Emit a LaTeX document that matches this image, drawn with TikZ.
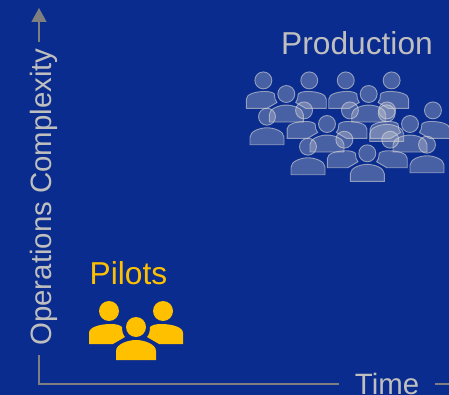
\documentclass[tikz,border=0pt]{standalone}
\usepackage{fontspec}
\setmainfont{Liberation Sans}
\usetikzlibrary{arrows.meta}
\definecolor{bgblue}{HTML}{0A2C8E}
\definecolor{axisgrey}{HTML}{7F7F7F}
\definecolor{labelgrey}{HTML}{BFBFBF}
\definecolor{gold}{HTML}{FFC000}
\definecolor{crowdgrey}{HTML}{D9D9D9}
\tikzset{
  axis line/.style={draw=axisgrey,line width=1.6pt},
  axis label/.style={text=labelgrey,font=\fontsize{29.4}{32}\selectfont,inner sep=0pt},
  title label/.style={font=\fontsize{31.7}{34}\selectfont,inner sep=0pt},
  crowd/.style={fill=crowdgrey,fill opacity=.3,draw=crowdgrey,draw opacity=.6,line width=.9pt},
  pilot/.style={fill=gold,draw=none}
}
\newcommand{\centerperson}[4]{%
  \begin{scope}[shift={(#1,#2)},scale=#3]
    \path[#4] (0,0) circle[radius=10];
    \path[#4] (-20,33) -- (-20,24) .. controls (-20,17) and (-8,13) .. (0,13)
      .. controls (8,13) and (20,17) .. (20,24) -- (20,33) -- cycle;
  \end{scope}}
\newcommand{\sidepeople}[4]{%
  \begin{scope}[shift={(#1,#2)},scale=#3]
    \path[#4] (-27,-16) circle[radius=10];
    \path[#4] (27,-16) circle[radius=10];
    \path[#4] (-47,17) -- (-47,6) .. controls (-47,0) and (-36,-3) .. (-25,-3)
      .. controls (-20,-3) and (-16,-2) .. (-14,0) .. controls (-14,4) and (-13,8) .. (-11,10)
      -- (-23,17) -- cycle;
    \path[#4] (47,17) -- (47,6) .. controls (47,0) and (36,-3) .. (25,-3)
      .. controls (20,-3) and (16,-2) .. (14,0) .. controls (14,4) and (13,8) .. (11,10)
      -- (23,17) -- cycle;
  \end{scope}}
\newcommand{\persongroup}[4]{\sidepeople{#1}{#2}{#3}{#4}\centerperson{#1}{#2}{#3}{#4}}
\begin{document}
\begin{tikzpicture}[x=1pt,y=-1pt]
  \useasboundingbox (0,0) rectangle (449,395);
  \fill[bgblue] (0,0) rectangle (449,395);
  % axes
  \coordinate (ytip) at (39,8);
  \coordinate (ystart) at (39,42);
  \coordinate (origin) at (39,384);
  \coordinate (ylow) at (39,355);
  \coordinate (xstart) at (339,384);
  \coordinate (xresume) at (435,384);
  \coordinate (xend) at (449,384);
  \node[axis label,rotate=90,anchor=base] (ylabel) at (51.5,197) {Operations Complexity};
  \node[axis label,anchor=base] (xlabel) at (387,394.5) {Time};
  \draw[axis line,-{Triangle[length=14pt,width=15pt]}] (ystart) -- (ytip);
  \draw[axis line] (ylow) -- (origin) -- (xstart);
  \draw[axis line] (xresume) -- (xend);
  % titles
  \node[title label,text=labelgrey,anchor=base] (production) at (357,54.5) {Production};
  \node[title label,text=gold,anchor=base] (pilots) at (128.5,284) {Pilots};
  % pilots
  \persongroup{136}{327}{1}{pilot}
  % production crowd
  \persongroup{286.3}{94}{.85}{crowd}
  \persongroup{368.7}{94}{.85}{crowd}
  \centerperson{386.7}{113.3}{.85}{crowd}
  \centerperson{267}{116.7}{.85}{crowd}
  \persongroup{327}{124}{.85}{crowd}
  \persongroup{410}{124}{.85}{crowd}
  \centerperson{308}{146.7}{.85}{crowd}
  \centerperson{427}{144.7}{.85}{crowd}
  \persongroup{367.3}{153.3}{.85}{crowd}
\end{tikzpicture}
\end{document}
